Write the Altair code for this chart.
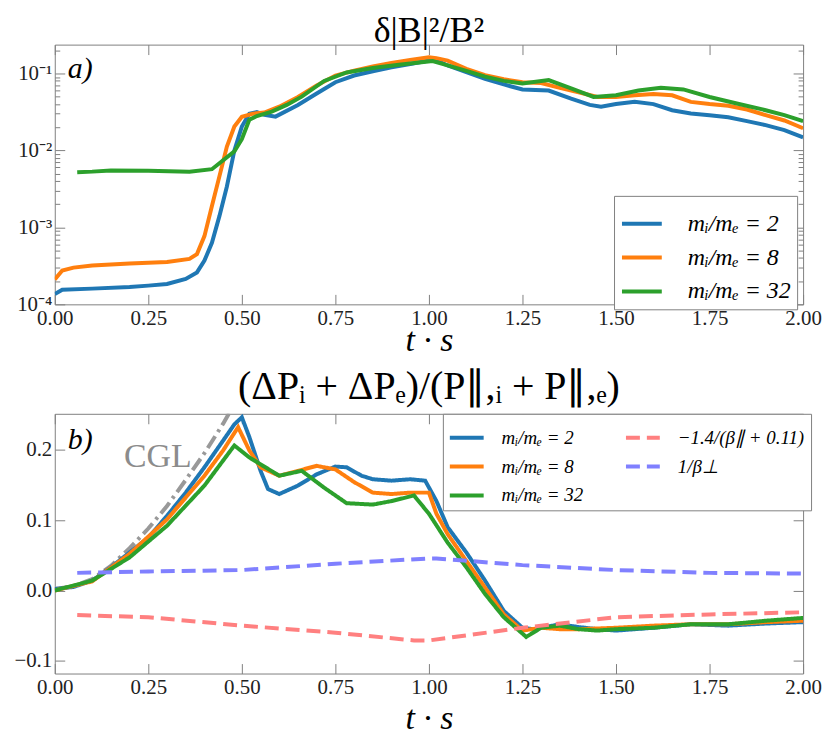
import altair as alt
import pandas as pd

S2 = "mᵢ/mₑ = 2"
S8 = "mᵢ/mₑ = 8"
S32 = "mᵢ/mₑ = 32"
SR = "−1.4/(β∥ + 0.11)"
SB = "1/β⊥"

BLUE = "#1f77b4"
ORANGE = "#ff7f0e"
GREEN = "#2ca02c"
LRED = "#ff8080"
LBLUE = "#8080ff"

# ---- panel a) data: delta|B|^2/B^2 ----
ta_2 = [0, 0.02, 0.1, 0.2, 0.25, 0.3, 0.35, 0.38, 0.40, 0.42, 0.44, 0.46, 0.48, 0.50, 0.52, 0.54,
        0.56, 0.59, 0.65, 0.70, 0.75, 0.80, 0.85, 0.90, 0.95, 1.00, 1.02, 1.05, 1.10, 1.15, 1.20,
        1.25, 1.32, 1.38, 1.43, 1.46, 1.50, 1.55, 1.60, 1.65, 1.70, 1.75, 1.80, 1.85, 1.90, 1.95, 2.00]
va_2 = [1.36e-4, 1.55e-4, 1.6e-4, 1.68e-4, 1.75e-4, 1.84e-4, 2.14e-4, 2.6e-4, 3.7e-4, 6.3e-4,
        1.4e-3, 3.4e-3, 1.0e-2, 2.04e-2, 3.0e-2, 3.15e-2, 2.9e-2, 2.75e-2, 3.9e-2, 5.5e-2, 7.7e-2,
        9.4e-2, 1.07e-1, 1.2e-1, 1.33e-1, 1.47e-1, 1.48e-1, 1.27e-1, 1.04e-1, 8.5e-2, 7.2e-2,
        6.2e-2, 6.0e-2, 4.7e-2, 3.9e-2, 3.7e-2, 4.0e-2, 4.3e-2, 4.0e-2, 3.33e-2, 3.02e-2, 2.87e-2,
        2.7e-2, 2.4e-2, 2.13e-2, 1.84e-2, 1.48e-2]

ta_8 = [0, 0.02, 0.05, 0.1, 0.2, 0.3, 0.36, 0.38, 0.40, 0.42, 0.44, 0.46, 0.48, 0.50, 0.53, 0.56,
        0.60, 0.65, 0.70, 0.75, 0.80, 0.85, 0.90, 0.95, 1.00, 1.02, 1.05, 1.10, 1.15, 1.20, 1.25,
        1.30, 1.35, 1.40, 1.45, 1.50, 1.55, 1.60, 1.65, 1.70, 1.75, 1.80, 1.85, 1.90, 1.95, 2.00]
va_8 = [2.1e-4, 2.75e-4, 3.0e-4, 3.2e-4, 3.4e-4, 3.55e-4, 3.9e-4, 4.5e-4, 7.7e-4, 1.9e-3, 4.6e-3,
        1.12e-2, 2.04e-2, 2.74e-2, 3.0e-2, 3.1e-2, 3.7e-2, 4.95e-2, 7.0e-2, 9.4e-2, 1.09e-1,
        1.23e-1, 1.37e-1, 1.5e-1, 1.62e-1, 1.58e-1, 1.47e-1, 1.15e-1, 9.5e-2, 8.4e-2, 7.7e-2,
        7.5e-2, 6.5e-2, 5.7e-2, 4.95e-2, 4.95e-2, 5.2e-2, 5.4e-2, 5.2e-2, 4.27e-2, 4.0e-2, 3.8e-2,
        3.4e-2, 2.87e-2, 2.45e-2, 1.94e-2]

ta_32 = [0.06, 0.10, 0.15, 0.25, 0.36, 0.42, 0.48, 0.50, 0.52, 0.54, 0.58, 0.62, 0.66, 0.72, 0.78,
         0.85, 0.92, 0.98, 1.01, 1.05, 1.10, 1.15, 1.20, 1.25, 1.32, 1.38, 1.44, 1.50, 1.56, 1.62,
         1.68, 1.75, 1.82, 1.90, 1.95, 2.00]
va_32 = [5.2e-3, 5.3e-3, 5.5e-3, 5.45e-3, 5.3e-3, 5.7e-3, 9.7e-3, 1.4e-2, 2.5e-2, 2.8e-2, 3.2e-2,
         3.9e-2, 5.0e-2, 8.0e-2, 1.03e-1, 1.18e-1, 1.3e-1, 1.4e-1, 1.45e-1, 1.27e-1, 1.08e-1,
         9.1e-2, 8.0e-2, 7.4e-2, 8.2e-2, 6.4e-2, 4.95e-2, 5.2e-2, 6.0e-2, 6.5e-2, 6.2e-2, 4.95e-2,
         4.1e-2, 3.33e-2, 2.87e-2, 2.4e-2]

# ---- panel b) data: pressure anisotropy ----
tb_2 = [0, 0.05, 0.1, 0.15, 0.2, 0.25, 0.3, 0.35, 0.4, 0.45, 0.48, 0.50, 0.52, 0.55, 0.57, 0.60,
        0.65, 0.70, 0.75, 0.78, 0.82, 0.85, 0.90, 0.95, 0.99, 1.02, 1.05, 1.10, 1.15, 1.20, 1.25,
        1.28, 1.30, 1.35, 1.40, 1.45, 1.50, 1.60, 1.70, 1.80, 1.90, 2.00]
vb_2 = [0.002, 0.005, 0.014, 0.033, 0.054, 0.075, 0.106, 0.139, 0.175, 0.213, 0.236, 0.246, 0.218,
        0.17, 0.144, 0.137, 0.149, 0.165, 0.176, 0.175, 0.163, 0.158, 0.156, 0.158, 0.156, 0.127,
        0.09, 0.054, 0.014, -0.029, -0.053, -0.055, -0.053, -0.048, -0.052, -0.055, -0.057,
        -0.053, -0.048, -0.05, -0.047, -0.045]

tb_8 = [0, 0.1, 0.2, 0.3, 0.4, 0.45, 0.49, 0.52, 0.55, 0.60, 0.65, 0.70, 0.75, 0.80, 0.85, 0.90,
        0.95, 1.00, 1.02, 1.05, 1.10, 1.15, 1.20, 1.25, 1.30, 1.35, 1.40, 1.50, 1.60, 1.70, 1.80,
        1.90, 2.00]
vb_8 = [0.0, 0.013, 0.052, 0.101, 0.163, 0.199, 0.232, 0.199, 0.175, 0.163, 0.17, 0.177, 0.172,
        0.154, 0.139, 0.137, 0.139, 0.139, 0.109, 0.08, 0.042, 0.004, -0.034, -0.057, -0.053,
        -0.055, -0.055, -0.053, -0.05, -0.048, -0.048, -0.045, -0.043]

tb_32 = [0, 0.1, 0.2, 0.3, 0.4, 0.48, 0.52, 0.60, 0.66, 0.72, 0.78, 0.85, 0.90, 0.96, 1.00, 1.05,
         1.10, 1.15, 1.20, 1.26, 1.30, 1.35, 1.40, 1.45, 1.50, 1.60, 1.70, 1.80, 1.90, 2.00]
vb_32 = [0.0, 0.014, 0.047, 0.092, 0.149, 0.206, 0.189, 0.163, 0.17, 0.146, 0.124, 0.122, 0.127,
         0.135, 0.109, 0.068, 0.033, -0.005, -0.038, -0.066, -0.053, -0.05, -0.055, -0.057,
         -0.055, -0.053, -0.048, -0.048, -0.043, -0.039]

t_cgl = [0, 0.05, 0.1, 0.15, 0.2, 0.25, 0.3, 0.35, 0.4, 0.45, 0.48]
v_cgl = [0.002, 0.006, 0.016, 0.035, 0.06, 0.088, 0.12, 0.157, 0.195, 0.237, 0.265]

t_red = [0.06, 0.25, 0.5, 0.75, 0.96, 1.0, 1.25, 1.5, 1.75, 2.0]
v_red = [-0.035, -0.038, -0.05, -0.06, -0.071, -0.071, -0.053, -0.038, -0.034, -0.031]

t_bd = [0.06, 0.25, 0.5, 0.75, 1.0, 1.02, 1.25, 1.5, 1.75, 2.0]
v_bd = [0.025, 0.027, 0.029, 0.038, 0.0455, 0.0455, 0.036, 0.029, 0.025, 0.024]

x_ticks = [0, 0.25, 0.5, 0.75, 1.0, 1.25, 1.5, 1.75, 2.0]
ya_major = [1e-4, 1e-3, 1e-2, 1e-1]
ya_minor = [m * 10.0 ** k for k in (-4, -3, -2, -1) for m in range(2, 10) if m * 10.0 ** k < 0.237]
yb_ticks = [-0.1, 0.0, 0.1, 0.2]

SERIF = "Liberation Serif"
TICK_COLOR = "#808080"


def long_df(pairs):
    rows = []
    for name, ts, vs in pairs:
        for t, v in zip(ts, vs):
            rows.append({"t": t, "v": v, "series": name})
    return pd.DataFrame(rows)


df_a = long_df([(S2, ta_2, va_2), (S8, ta_8, va_8), (S32, ta_32, va_32)])
df_b = long_df([(S2, tb_2, vb_2), (S8, tb_8, vb_8), (S32, tb_32, vb_32),
                (SR, t_red, v_red), (SB, t_bd, v_bd)])
df_cgl = pd.DataFrame({"t": t_cgl, "v": v_cgl})

W, H = 752, 261
TK = 10

minor_test = "abs(log(datum.value)/LN10 - round(log(datum.value)/LN10)) > 0.01"
log_label = ("(" + minor_test + ") ? '' : "
             "round(log(datum.value)/LN10) == -4 ? '10⁻⁴' : "
             "round(log(datum.value)/LN10) == -3 ? '10⁻³' : "
             "round(log(datum.value)/LN10) == -2 ? '10⁻²' : "
             "round(log(datum.value)/LN10) == -1 ? '10⁻¹' : ''")


def x_axis_bottom(label_pad, title_pad):
    return alt.Axis(values=x_ticks, format=".2f", title="t · s", orient="bottom", offset=-TK,
                    tickSize=TK, domain=False, grid=False, labelPadding=label_pad,
                    titlePadding=title_pad, labelFlush=False)


def x_axis_top():
    return alt.Axis(values=x_ticks, orient="top", offset=-TK, tickSize=TK, domain=False,
                    grid=False, labels=False, title=None)


xscale = alt.Scale(domain=[0, 2], nice=False, zero=False)
yscale_a = alt.Scale(type="log", domain=[1e-4, 0.237], nice=False)
yscale_b = alt.Scale(domain=[-0.118, 0.251], nice=False, zero=False)

# ---------------- panel a ----------------
ya_axis_left = alt.Axis(values=ya_major + ya_minor, labelExpr=log_label, orient="left",
                        offset=-TK, tickSize=TK, domain=False, grid=False, title=None,
                        labelPadding=3,
                        tickDash={"condition": {"test": minor_test, "value": [0, 5, 5, 5]},
                                  "value": [TK, 0]})
ya_axis_right = alt.Axis(values=ya_major + ya_minor, orient="right", offset=-TK, tickSize=TK,
                         domain=False, grid=False, title=None, labels=False,
                         tickDash={"condition": {"test": minor_test, "value": [0, 5, 5, 5]},
                                   "value": [TK, 0]})

lines_a = alt.Chart(df_a).mark_line(strokeWidth=4, clip=True).encode(
    x=alt.X("t:Q", scale=xscale, axis=x_axis_bottom(3, -5)),
    y=alt.Y("v:Q", scale=yscale_a, axis=ya_axis_left),
    color=alt.Color("series:N", sort=None,
                    scale=alt.Scale(domain=[S2, S8, S32], range=[BLUE, ORANGE, GREEN]),
                    legend=alt.Legend(title=None, orient="none", legendX=W - 190,
                                      legendY=H - 109,
                                      symbolType="stroke", symbolSize=1600,
                                      symbolStrokeWidth=4, labelFontSize=24,
                                      labelFont=SERIF, labelFontStyle="italic",
                                      rowPadding=-11, padding=6, strokeColor="#808080",
                                      fillColor="white", labelOffset=24, labelLimit=300)),
)

frame_a = alt.Chart(df_a).mark_line(opacity=0).encode(
    x=alt.X("t:Q", scale=xscale, axis=x_axis_top()),
    y=alt.Y("v:Q", scale=yscale_a, axis=ya_axis_right),
)

lab_a = alt.Chart(pd.DataFrame({"t": [0.035], "v": [0.113], "txt": ["a)"]})).mark_text(
    align="left", baseline="middle", fontSize=30, font=SERIF, fontStyle="italic", color="black"
).encode(
    x=alt.X("t:Q", scale=xscale, axis=None),
    y=alt.Y("v:Q", scale=yscale_a, axis=None),
    text="txt:N",
)

panel_a = alt.layer(lines_a, frame_a, lab_a).resolve_axis(
    x="independent", y="independent"
).properties(width=W, height=H,
             title=alt.Title("δ|B|²/B²", fontSize=36, offset=-6))

# ---------------- panel b ----------------
yb_axis_left = alt.Axis(values=yb_ticks, format=".1f", orient="left", offset=-TK, tickSize=TK,
                        domain=False, grid=False, title=None, labelPadding=3)
yb_axis_right = alt.Axis(values=yb_ticks, orient="right", offset=-TK, tickSize=TK, domain=False,
                         grid=False, title=None, labels=False)

order_b = [S2, S8, S32, SR, SB]

cgl_line = alt.Chart(df_cgl).mark_line(strokeWidth=4, clip=True, color="#999999",
                                       strokeDash=[14, 5, 3, 5]).encode(
    x=alt.X("t:Q", scale=xscale, axis=x_axis_bottom(3, 4)),
    y=alt.Y("v:Q", scale=yscale_b, axis=yb_axis_left),
)

lines_b = alt.Chart(df_b).mark_line(strokeWidth=4, clip=True).encode(
    x=alt.X("t:Q", scale=xscale, axis=None),
    y=alt.Y("v:Q", scale=yscale_b, axis=None),
    color=alt.Color("series:N", sort=None,
                    scale=alt.Scale(domain=order_b, range=[BLUE, ORANGE, GREEN, LRED, LBLUE]),
                    legend=alt.Legend(title=None, orient="none", legendX=W - 362, legendY=0,
                                      columns=2,
                                      symbolType="stroke", symbolSize=1156,
                                      symbolStrokeWidth=4, labelFontSize=19,
                                      labelFont=SERIF, labelFontStyle="italic",
                                      rowPadding=-15, columnPadding=34, padding=5,
                                      strokeColor="#808080", fillColor="white",
                                      labelOffset=16, labelLimit=300)),
    strokeDash=alt.StrokeDash("series:N", sort=None,
                              scale=alt.Scale(domain=order_b,
                                              range=[[1, 0], [1, 0], [1, 0], [14, 7], [14, 7]]),
                              legend=alt.Legend(title=None)),
)

frame_b = alt.Chart(df_cgl).mark_line(opacity=0).encode(
    x=alt.X("t:Q", scale=xscale, axis=x_axis_top()),
    y=alt.Y("v:Q", scale=yscale_b, axis=yb_axis_right),
)

lab_b = alt.Chart(pd.DataFrame({"t": [0.035], "v": [0.214], "txt": ["b)"]})).mark_text(
    align="left", baseline="middle", fontSize=30, font=SERIF, fontStyle="italic", color="black"
).encode(
    x=alt.X("t:Q", scale=xscale, axis=None),
    y=alt.Y("v:Q", scale=yscale_b, axis=None),
    text="txt:N",
)

lab_cgl = alt.Chart(pd.DataFrame({"t": [0.185], "v": [0.19], "txt": ["CGL"]})).mark_text(
    align="left", baseline="middle", fontSize=34, font=SERIF, color="#8c8c8c"
).encode(
    x=alt.X("t:Q", scale=xscale, axis=None),
    y=alt.Y("v:Q", scale=yscale_b, axis=None),
    text="txt:N",
)

panel_b = alt.layer(cgl_line, lines_b, frame_b, lab_b, lab_cgl).resolve_axis(
    x="independent", y="independent"
).properties(width=W, height=H,
             title=alt.Title("(ΔPᵢ + ΔPₑ)/(P∥,ᵢ + P∥,ₑ)", fontSize=40, offset=-3))

chart = alt.vconcat(panel_a, panel_b, spacing=8).resolve_scale(
    color="independent", strokeDash="independent"
).resolve_legend(
    color="independent", strokeDash="independent"
).configure(
    font=SERIF, padding={"left": 5, "top": 3, "right": 0, "bottom": 0}
).configure_axis(
    labelFont=SERIF, labelFontSize=21, labelColor="#222222", tickColor=TICK_COLOR,
    tickWidth=1, titleFont=SERIF, titleFontSize=34, titleFontStyle="italic",
    titleFontWeight="normal", titleColor="black"
).configure_title(
    font=SERIF, fontWeight="normal", color="black", anchor="middle"
).configure_view(
    stroke=TICK_COLOR, strokeWidth=1
)

chart.save("out.html", embed_options={"renderer": "svg", "actions": False})
